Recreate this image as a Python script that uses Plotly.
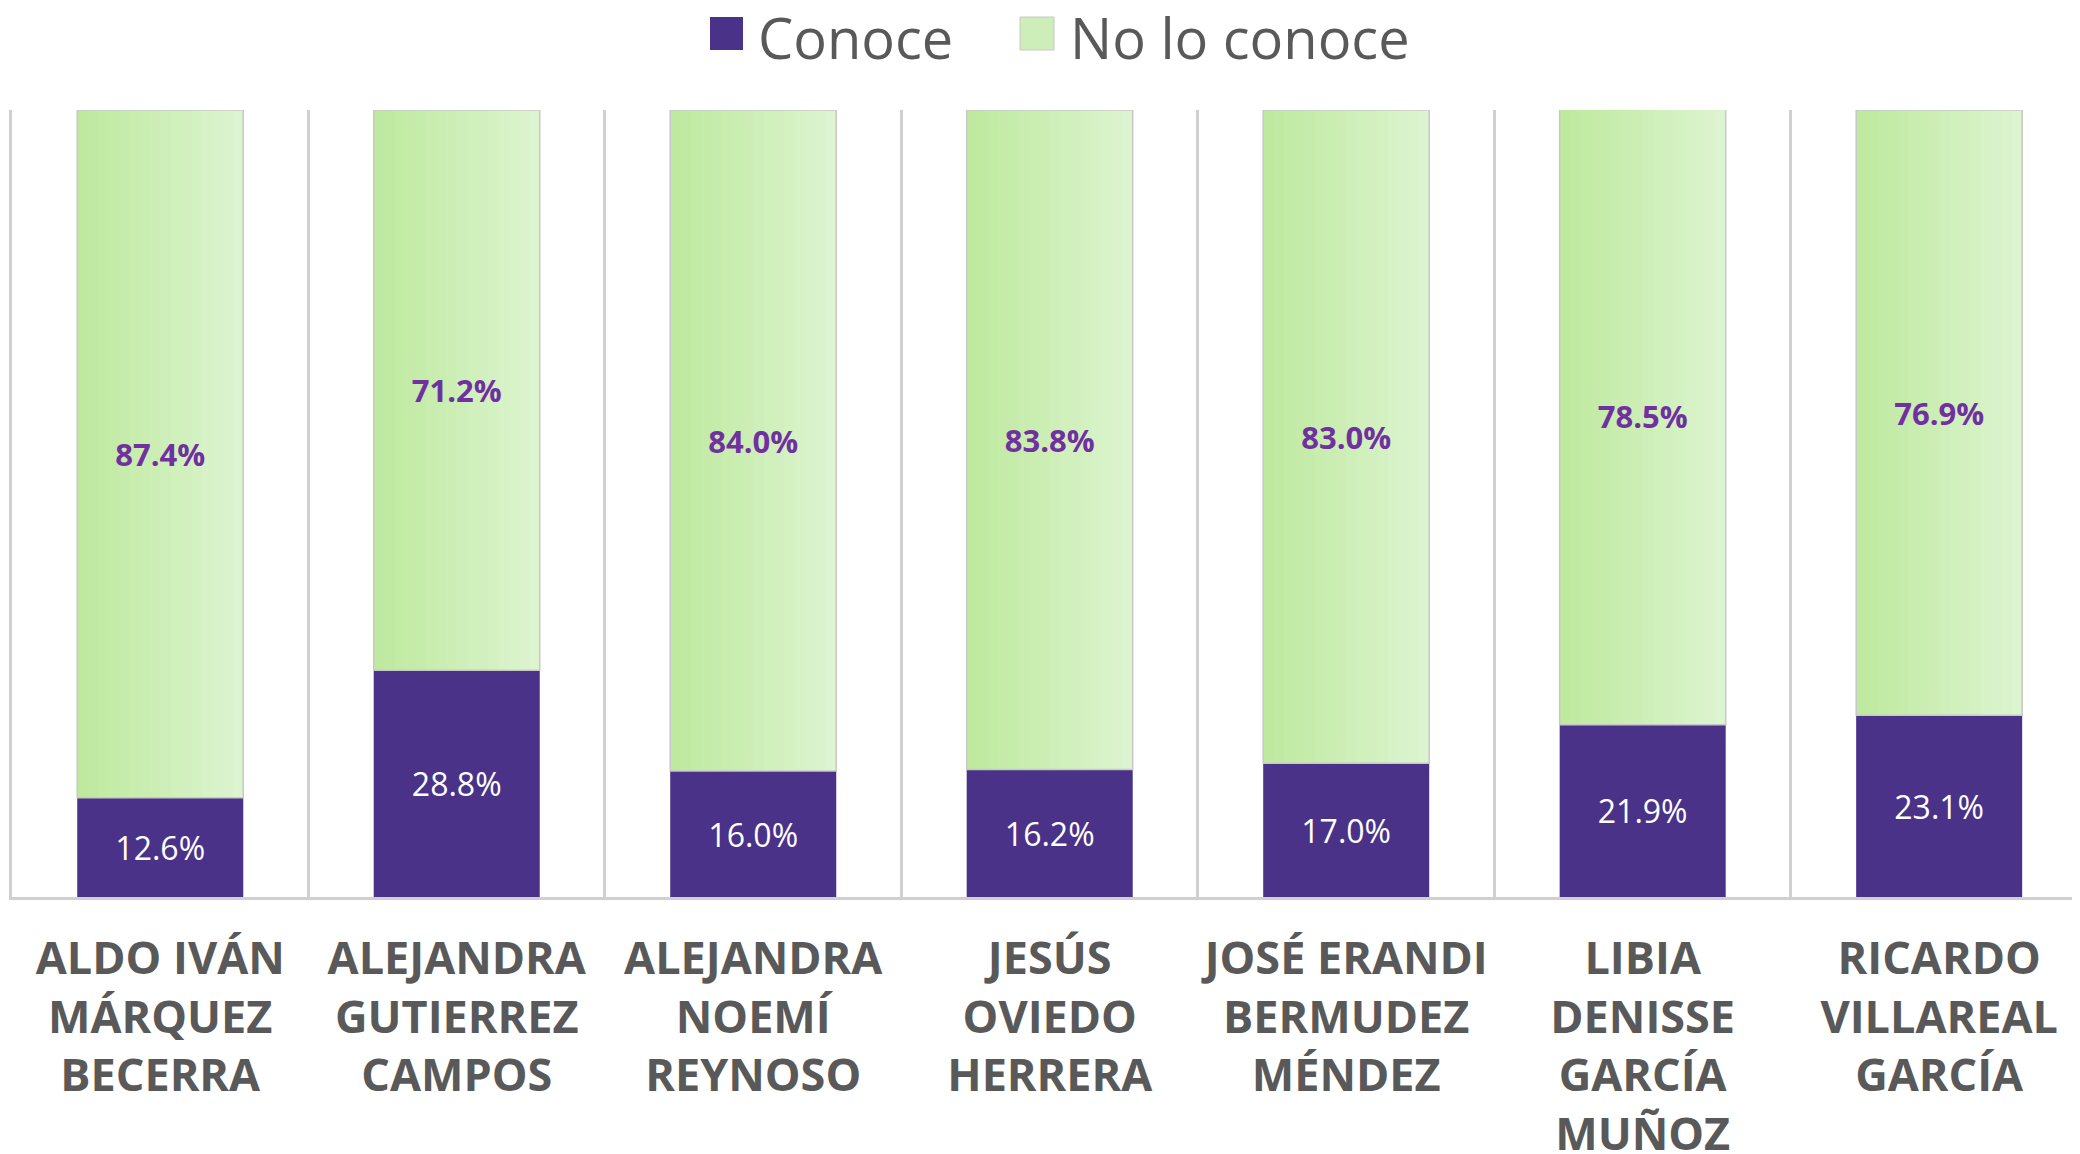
import plotly.graph_objects as go

categories = [
    "ALDO IVÁN<br>MÁRQUEZ<br>BECERRA",
    "ALEJANDRA<br>GUTIERREZ<br>CAMPOS",
    "ALEJANDRA<br>NOEMÍ<br>REYNOSO",
    "JESÚS<br>OVIEDO<br>HERRERA",
    "JOSÉ ERANDI<br>BERMUDEZ<br>MÉNDEZ",
    "LIBIA<br>DENISSE<br>GARCÍA<br>MUÑOZ",
    "RICARDO<br>VILLAREAL<br>GARCÍA",
]
conoce = [12.6, 28.8, 16.0, 16.2, 17.0, 21.9, 23.1]
no_conoce = [87.4, 71.2, 84.0, 83.8, 83.0, 78.5, 76.9]
series_names = ["Conoce", "No lo conoce"]

PURPLE = "#4a3289"
LABEL_PURPLE = "#7030a0"
GRAY_TXT = "#595959"
GRID = "#d0d0d0"
BAR_W = 0.56
FONT = "Open Sans"

fig = go.Figure()

# Conoce (purple)
fig.add_trace(go.Bar(
    x=categories, y=conoce, base=[0] * len(conoce), name=series_names[0],
    width=BAR_W, offset=-BAR_W / 2,
    marker=dict(color=PURPLE, line=dict(width=0)),
    text=[f"{v:.1f}%" for v in conoce], textposition="inside",
    insidetextanchor="middle",
    textfont=dict(family=FONT, size=32, color="white"),
    showlegend=False,
))

# No lo conoce: horizontal gradient built from overlapping strips
def lerp(c1, c2, t):
    a = [int(c1[i:i + 2], 16) for i in (1, 3, 5)]
    b = [int(c2[i:i + 2], 16) for i in (1, 3, 5)]
    return "#" + "".join(f"{round(a[k] + (b[k] - a[k]) * t):02x}" for k in range(3))

N = 16
left_c, right_c = "#bde99d", "#ddf4d1"
for i in range(N):
    frac = i / N
    fig.add_trace(go.Bar(
        x=categories, y=no_conoce, base=conoce,
        width=BAR_W * (1 - frac), offset=-BAR_W / 2 + BAR_W * frac,
        marker=dict(color=lerp(left_c, right_c, (i + 0.5) / N), line=dict(width=0)),
        showlegend=False, hoverinfo="skip",
    ))

# outline + labels for No lo conoce
fig.add_trace(go.Bar(
    x=categories, y=no_conoce, base=conoce, name=series_names[1],
    width=BAR_W, offset=-BAR_W / 2,
    marker=dict(color="rgba(0,0,0,0)", line=dict(color="#c8c8c8", width=1.5)),
    text=[f"{v:.1f}%" for v in no_conoce], textposition="inside",
    insidetextanchor="middle",
    textfont=dict(family=FONT, size=31, color=LABEL_PURPLE, weight="bold"),
    showlegend=False,
))

# page has an 8px body margin: compensate so the figure lines up with the window
OFF = 8
W, H = 2080 - OFF, 1154 - OFF
L, R, T, B = 12 - OFF, 0, 110 - OFF, 257

pw, ph = W - L - R, H - T - B

def px_x(px):  # page pixel -> paper
    return (px - OFF - L) / pw

def px_y(py):
    return (H - B - (py - OFF)) / ph

# custom legend (large swatches)
shapes = [
    dict(type="rect", xref="paper", yref="paper",
         x0=px_x(710), x1=px_x(743), y0=px_y(50), y1=px_y(17),
         fillcolor=PURPLE, line=dict(width=0)),
    dict(type="rect", xref="paper", yref="paper",
         x0=px_x(1020), x1=px_x(1054), y0=px_y(50), y1=px_y(17),
         fillcolor="#cdeeb9", line=dict(color="#c8c8c8", width=1)),
]
annotations = [
    dict(text=series_names[0], xref="paper", yref="paper", x=px_x(756), y=px_y(37),
         xanchor="left", yanchor="middle", showarrow=False,
         font=dict(family=FONT, size=56, color=GRAY_TXT)),
    dict(text=series_names[1], xref="paper", yref="paper", x=px_x(1068), y=px_y(37),
         xanchor="left", yanchor="middle", showarrow=False,
         font=dict(family=FONT, size=56, color=GRAY_TXT)),
]

fig.update_layout(
    width=W, height=H,
    barmode="overlay",
    paper_bgcolor="white", plot_bgcolor="white",
    margin=dict(l=L, r=R, t=T, b=B, pad=0, autoexpand=False),
    showlegend=False,
    shapes=shapes, annotations=annotations,
    uniformtext=dict(mode=False),
)
fig.update_xaxes(
    range=[-0.5, 6.475], tickson="boundaries", showgrid=True,
    gridcolor=GRID, gridwidth=3, ticks="", showline=True,
    linecolor=GRID, linewidth=3, automargin=False,
    tickfont=dict(family=FONT, size=45, color=GRAY_TXT, weight="bold"),
    ticklabelstandoff=20,
)
fig.update_yaxes(
    range=[0, 100], showgrid=False, zeroline=False, showticklabels=False,
    showline=True, linecolor=GRID, linewidth=3, automargin=False,
)

fig.write_html("out.html")
